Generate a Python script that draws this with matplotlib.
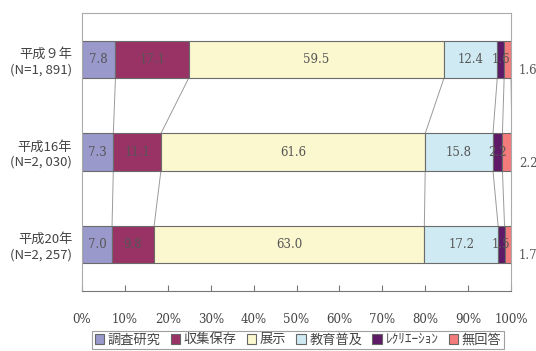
import matplotlib
matplotlib.use("Agg")
import matplotlib.pyplot as plt
import matplotlib.patches as mpatches
import numpy as np

plt.rcParams['font.family'] = ['Noto Sans CJK JP', 'DejaVu Sans']

years = ["平成９年\n(N=1, 891)", "平成16年\n(N=2, 030)", "平成20年\n(N=2, 257)"]
series = ["調査研究", "収集保存", "展示", "教育普及", "ﾚｸﾘｴｰｼｮﾝ", "無回答"]
chousa = [7.8, 7.3, 7.0]
shushu = [17.1, 11.1, 9.8]
tenji = [59.5, 61.6, 63.0]
kyoiku = [12.4, 15.8, 17.2]
recre = [1.6, 2.2, 1.5]
mukaito = [1.6, 2.2, 1.7]
ticks = ["0%", "10%", "20%", "30%", "40%", "50%", "60%", "70%", "80%", "90%", "100%"]

colors = ["#9999cc", "#993366", "#fbf8cf", "#cfeaf3", "#5e1a66", "#f47b7b"]
data = np.array([chousa, shushu, tenji, kyoiku, recre, mukaito])

fig = plt.figure(figsize=(5.36, 3.51), dpi=100)
ax = fig.add_axes([82/536, 1 - 291/351, 429/536, 278/351])

y = np.arange(len(years))
h = 0.4
left = np.zeros(len(years))
lefts = []
for i, (vals, c) in enumerate(zip(data, colors)):
    ax.barh(y, vals, left=left, height=h, color=c, edgecolor="#6b6b6b", linewidth=0.8, zorder=2)
    lefts.append(left.copy())
    for j in range(len(years)):
        cx = left[j] + vals[j] / 2
        if i == len(data) - 1:
            ax.text(101.8, y[j] + 0.12, f"{vals[j]:.1f}", ha="left", va="center",
                    fontsize=8.5, color="#555555", family=["DejaVu Serif"], clip_on=False)
        else:
            ax.text(cx, y[j], f"{vals[j]:.1f}", ha="center", va="center",
                    fontsize=8.5, color="#555555", family=["DejaVu Serif"], zorder=3)
    left = left + vals
lefts.append(left.copy())

# series lines
for k in range(1, len(lefts)):
    cum = lefts[k]
    for j in range(len(years) - 1):
        ax.plot([cum[j], cum[j + 1]], [y[j] + h / 2, y[j + 1] - h / 2],
                color="#9a9a9a", linewidth=0.7, zorder=1)

ax.set_xlim(0, 100)
ax.set_ylim(2.5, -0.5)
ax.set_xticks(np.arange(0, 101, 10))
ax.set_xticklabels(ticks, family=["DejaVu Serif"], fontsize=8.5, color="#444444")
ax.set_yticks(y)
ax.set_yticklabels(years, fontsize=9.5, color="#444444", linespacing=1.25)
ax.tick_params(axis="x", direction="in", length=4, pad=16, color="#777777")
ax.tick_params(axis="y", length=0, pad=7)
for s in ["top", "right", "left"]:
    ax.spines[s].set_color("#aaaaaa")
ax.spines["bottom"].set_color("#777777")

handles = [mpatches.Patch(facecolor=c, edgecolor="#666666", linewidth=0.8) for c in colors]
leg = fig.legend(handles, series, loc="center", bbox_to_anchor=(298/536, 1 - 340/351),
                 ncol=6, fontsize=9.5, frameon=True, fancybox=False, edgecolor="#888888",
                 handlelength=0.7, handleheight=0.7, handletextpad=0.3, columnspacing=0.75,
                 borderpad=0.2, labelcolor="#444444")
leg.get_frame().set_linewidth(0.8)

fig.savefig("out.png", dpi=100)
